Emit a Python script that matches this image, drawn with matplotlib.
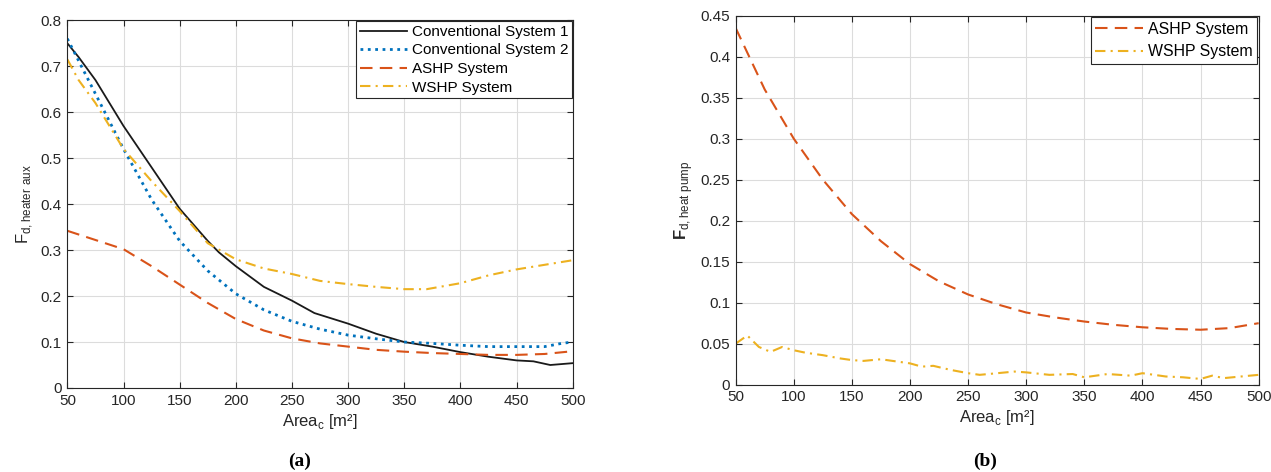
import matplotlib
matplotlib.use('Agg')
import matplotlib.pyplot as plt

# ---- данные ----
area_c1 = [50, 60, 75, 100, 125, 150, 175, 185, 200, 225, 250, 270, 300, 325, 350, 375, 400, 425, 450, 465, 480, 500]
conv1 = [0.75, 0.72, 0.67, 0.57, 0.48, 0.39, 0.32, 0.295, 0.265, 0.22, 0.19, 0.163, 0.14, 0.118, 0.10, 0.09, 0.078, 0.068, 0.06, 0.058, 0.05, 0.054]

area_c2 = [50, 75, 100, 125, 150, 175, 200, 225, 250, 275, 300, 325, 350, 375, 400, 425, 450, 475, 490, 500]
conv2 = [0.76, 0.64, 0.52, 0.41, 0.32, 0.255, 0.205, 0.17, 0.145, 0.128, 0.115, 0.107, 0.10, 0.097, 0.093, 0.09, 0.09, 0.09, 0.097, 0.10]

area_a = [50, 75, 100, 125, 150, 175, 200, 225, 250, 275, 300, 325, 350, 375, 400, 425, 450, 475, 500]
ashp_aux = [0.342, 0.322, 0.302, 0.265, 0.225, 0.185, 0.15, 0.125, 0.108, 0.097, 0.09, 0.083, 0.079, 0.076, 0.074, 0.072, 0.072, 0.074, 0.08]

area_w = [50, 60, 75, 100, 125, 150, 175, 200, 225, 250, 275, 300, 325, 350, 370, 400, 425, 450, 475, 500]
wshp_aux = [0.715, 0.67, 0.62, 0.52, 0.45, 0.385, 0.315, 0.28, 0.26, 0.248, 0.233, 0.226, 0.22, 0.215, 0.215, 0.228, 0.245, 0.258, 0.268, 0.278]

ashp_hp = [0.435, 0.36, 0.30, 0.25, 0.208, 0.175, 0.147, 0.126, 0.11, 0.098, 0.088, 0.082, 0.077, 0.073, 0.07, 0.068, 0.067, 0.069, 0.075]

area_whp = [50, 60, 70, 80, 90, 100, 110, 125, 140, 150, 160, 175, 190, 200, 210, 220, 235, 250, 260, 275,
            290, 300, 320, 340, 350, 370, 390, 400, 420, 435, 450, 460, 470, 485, 500]
wshp_hp = [0.05, 0.06, 0.046, 0.04, 0.046, 0.042, 0.039, 0.036, 0.032, 0.03, 0.029, 0.031, 0.028, 0.026, 0.022, 0.023,
           0.018, 0.014, 0.012, 0.014, 0.016, 0.015, 0.012, 0.013, 0.009, 0.013, 0.011, 0.014, 0.01, 0.009, 0.007,
           0.011, 0.008, 0.01, 0.012]

xticks = [50, 100, 150, 200, 250, 300, 350, 400, 450, 500]

# цвета как в MATLAB
black = '#1a1a1a'
blue = '#0072BD'
orange = '#D95319'
yellow = '#EDB120'
dash = (6, 3.5)
dashdot = (5, 2.5, 1, 2.5)

plt.rcParams['font.family'] = ['Liberation Sans', 'DejaVu Sans']
plt.rcParams['mathtext.fontset'] = 'custom'
plt.rcParams['mathtext.rm'] = 'Liberation Sans'
plt.rcParams['mathtext.bf'] = 'Liberation Sans:bold'

fig = plt.figure(figsize=(12.71, 4.72), dpi=100)
ax1 = fig.add_axes([0.053, 0.178, 0.3976, 0.779])
ax2 = fig.add_axes([0.5788, 0.185, 0.4115, 0.7818])


def style(ax):
    ax.set_xlim(50, 500)
    ax.set_xticks(xticks)
    ax.grid(True, color='#dcdcdc', linewidth=0.8)
    ax.set_axisbelow(True)
    ax.tick_params(direction='in', top=True, right=True, labelsize=11, colors='#262626',
                   length=4, pad=4)
    for s in ax.spines.values():
        s.set_color('#262626')
        s.set_linewidth(0.8)
    ax.set_xlabel('Area$_\\mathregular{c}$ [m²]', fontsize=12, color='#262626', labelpad=3)


def frame(leg):
    leg.get_frame().set_edgecolor('#262626')
    leg.get_frame().set_linewidth(0.8)


# (a)
ax1.plot(area_c1, conv1, '-', color=black, linewidth=1.3, label='Conventional System 1')
ax1.plot(area_c2, conv2, ':', color=blue, linewidth=2.0, label='Conventional System 2')
ax1.plot(area_a, ashp_aux, '--', color=orange, linewidth=1.5, dashes=dash, label='ASHP System')
ax1.plot(area_w, wshp_aux, '-.', color=yellow, linewidth=1.5, dashes=dashdot, label='WSHP System')
style(ax1)
ax1.set_ylim(0, 0.8)
ax1.set_yticks([0, 0.1, 0.2, 0.3, 0.4, 0.5, 0.6, 0.7, 0.8])
ax1.set_yticklabels(['0', '0.1', '0.2', '0.3', '0.4', '0.5', '0.6', '0.7', '0.8'])
ax1.set_ylabel('F$_\\mathregular{d,heater\\ aux}$', fontsize=12, color='#262626', labelpad=4)
leg = ax1.legend(loc='upper right', fontsize=11, frameon=True, fancybox=False, framealpha=1,
                 borderaxespad=0.05, handlelength=3.1, handletextpad=0.3, labelspacing=0.3,
                 borderpad=0.25)
frame(leg)

# (b)
ax2.plot(area_a, ashp_hp, '--', color=orange, linewidth=1.5, dashes=dash, label='ASHP System')
ax2.plot(area_whp, wshp_hp, '-.', color=yellow, linewidth=1.5, dashes=dashdot, label='WSHP System')
style(ax2)
ax2.set_ylim(0, 0.45)
ax2.set_yticks([0, 0.05, 0.1, 0.15, 0.2, 0.25, 0.3, 0.35, 0.4, 0.45])
ax2.set_yticklabels(['0', '0.05', '0.1', '0.15', '0.2', '0.25', '0.3', '0.35', '0.4', '0.45'])
ax2.set_ylabel('$\\mathbf{F}_\\mathregular{d,heat\\ pump}$', fontsize=12, color='#262626', labelpad=4)
leg2 = ax2.legend(loc='upper right', fontsize=11.4, frameon=True, fancybox=False, framealpha=1,
                  borderaxespad=0.1, handlelength=3.0, handletextpad=0.3, labelspacing=0.45,
                  borderpad=0.3)
frame(leg2)

# подписи (a), (b)
fig.text(0.236, 0.012, '(a)', family='Liberation Serif', fontweight='bold', fontsize=14, ha='center')
fig.text(0.775, 0.012, '(b)', family='Liberation Serif', fontweight='bold', fontsize=14, ha='center')

fig.savefig('out.png', dpi=100)
